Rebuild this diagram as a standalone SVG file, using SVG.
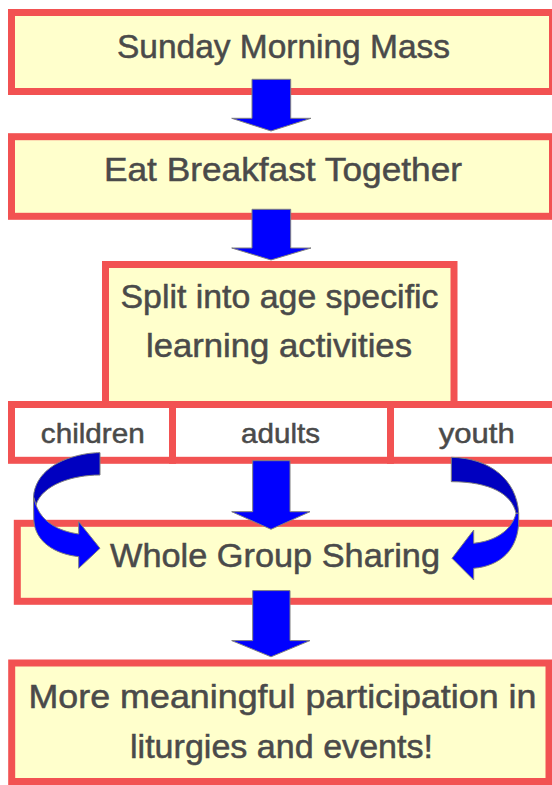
<svg xmlns="http://www.w3.org/2000/svg" width="552" height="785" viewBox="0 0 552 785">
<style>
.box{fill:#ffffcc;stroke:#f25252;stroke-width:7}
.wbox{fill:#ffffff;stroke:#f25252;stroke-width:7}
.t{font-family:"Liberation Sans",Arial,sans-serif;fill:#4a4a4a;stroke:#4a4a4a;stroke-width:0.5;text-anchor:middle;font-size:33px}
.s{font-size:28px}
.arr{fill:#0000ff;stroke:#7f7f7f;stroke-width:1;stroke-linejoin:miter}
.dark{fill:#0000c0;stroke:#7f7f7f;stroke-width:1}
</style>
<rect width="552" height="785" fill="#ffffff"/>
<g id="mass">
<rect class="box" x="11.5" y="12.5" width="541" height="79"/>
<text class="t" x="283.5" y="57.5" textLength="333" lengthAdjust="spacingAndGlyphs">Sunday Morning Mass</text>
</g>
<g id="breakfast">
<rect class="box" x="11.5" y="136.7" width="541" height="79.6"/>
<text class="t" x="283" y="181" textLength="358" lengthAdjust="spacingAndGlyphs">Eat Breakfast Together</text>
</g>
<g id="split">
<rect class="box" x="105.5" y="264.5" width="348.5" height="140"/>
<text class="t" x="279.5" y="308.3" textLength="318" lengthAdjust="spacingAndGlyphs">Split into age specific</text>
<text class="t" x="279" y="356.7" textLength="266" lengthAdjust="spacingAndGlyphs">learning activities</text>
</g>
<g id="children">
<rect class="wbox" x="11.5" y="404.5" width="161" height="55.8"/>
<text class="t s" x="92.8" y="443.3" textLength="104" lengthAdjust="spacingAndGlyphs">children</text>
</g>
<g id="adults">
<rect class="wbox" x="172.5" y="404.5" width="218" height="55.8"/>
<text class="t s" x="280.5" y="443.3" textLength="79" lengthAdjust="spacingAndGlyphs">adults</text>
</g>
<g id="youth">
<rect class="wbox" x="390.5" y="404.5" width="170" height="55.8"/>
<text class="t s" x="476.7" y="443.3" textLength="76" lengthAdjust="spacingAndGlyphs">youth</text>
</g>
<g id="sharing">
<rect class="box" x="17.3" y="523.3" width="545" height="78"/>
<text class="t" x="275" y="567" textLength="330" lengthAdjust="spacingAndGlyphs">Whole Group Sharing</text>
</g>
<g id="result">
<rect class="box" x="11.7" y="663" width="537.3" height="118.5"/>
<text class="t" x="282.5" y="708.3" textLength="508" lengthAdjust="spacingAndGlyphs">More meaningful participation in</text>
<text class="t" x="281.5" y="758.3" textLength="303" lengthAdjust="spacingAndGlyphs">liturgies and events!</text>
</g>
<g id="connectors">
<polygon class="arr" points="252,79.3 290.7,79.3 290.7,118.3 311,118.3 271,131 231.7,118.3 252,118.3"/>
<polygon class="arr" points="252,209.3 290.7,209.3 290.7,248 311,248 271,260 231.7,248 252,248"/>
<polygon class="arr" points="252.7,460.7 290,460.7 290,511.7 310,511.7 271,529.3 231.7,511.7 252.7,511.7"/>
<polygon class="arr" points="252.7,590.6 290,590.6 290,640.6 310,640.6 271,656.8 231.7,640.6 252.7,640.6"/>
<path class="dark" d="M88.3,453.5 C94,452.8 97,452.7 100,452.7 L100,475 C72,475 42,485 36,505 L33.5,497 C35,473 58,458 88.3,453.5 Z"/>
<path class="arr" d="M33.5,497 L36,505 C42,522 58,531 78.7,534 L78.7,521.7 L100,548.3 L78.7,568.3 L78.7,556.7 C55,554 35,542 33.8,520 Z"/>
<path class="dark" d="M451.3,457.3 C490,458 517,480 518.7,513.3 L516,513.3 C512,494 490,481.7 451.3,481.7 Z"/>
<path class="arr" d="M518.7,513.3 L516,513.3 C512,530 496,541 473.7,543.3 L473.7,530 L452,558.3 L473.7,580 L473.7,568.3 C500,566 518.7,550 518.7,520 Z"/>
</g>
</svg>
